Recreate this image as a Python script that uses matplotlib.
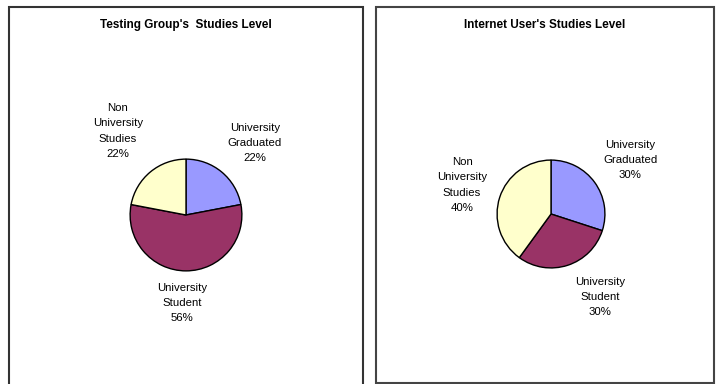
import matplotlib.pyplot as plt
from matplotlib.patches import Rectangle

W, H = 720, 384

# data
categories = ["University\nGraduated", "University\nStudent", "Non\nUniversity\nStudies"]
testing_pct = [22, 56, 22]
internet_pct = [30, 30, 40]
titles = ["Testing Group's  Studies Level", "Internet User's Studies Level"]
colors = ["#9999FF", "#993366", "#FFFFCC"]

plt.rcParams['font.family'] = ['Liberation Sans', 'DejaVu Sans']

fig = plt.figure(figsize=(W / 100, H / 100), dpi=100)


def px(x, y):
    return x / W, 1 - y / H


# panel borders
fig.patches.append(Rectangle(px(9, 400), 354 / W, 393 / H, transform=fig.transFigure,
                             fill=False, edgecolor="#333333", linewidth=1.5))
fig.patches.append(Rectangle(px(376, 383), 338 / W, 376 / H, transform=fig.transFigure,
                             fill=False, edgecolor="#444444", linewidth=1.5))


def draw_pie(cx, cy, r, values, title, tx, label_pos):
    ax = fig.add_axes([(cx - r) / W, (H - cy - r) / H, 2 * r / W, 2 * r / H])
    ax.pie(values, colors=colors, startangle=90, counterclock=False,
           wedgeprops=dict(edgecolor="black", linewidth=1.0))
    ax.set_xlim(-1.02, 1.02)
    ax.set_ylim(-1.02, 1.02)
    ax.set_aspect("equal")
    fig.text(*px(tx, 25), title, ha="center", va="center", fontsize=8.5,
             fontweight="bold", color="black")
    for cat, v, (lx, ly) in zip(categories, values, label_pos):
        fig.text(*px(lx, ly), f"{cat}\n{v}%", ha="center", va="center",
                 fontsize=8.2, linespacing=1.65)


draw_pie(186, 215, 57, testing_pct, titles[0], 186,
         [(255, 143), (182, 303), (118, 131)])
draw_pie(551, 214, 55, internet_pct, titles[1], 545,
         [(630, 160), (600, 297), (462, 185)])

fig.savefig("out.png", dpi=100)
